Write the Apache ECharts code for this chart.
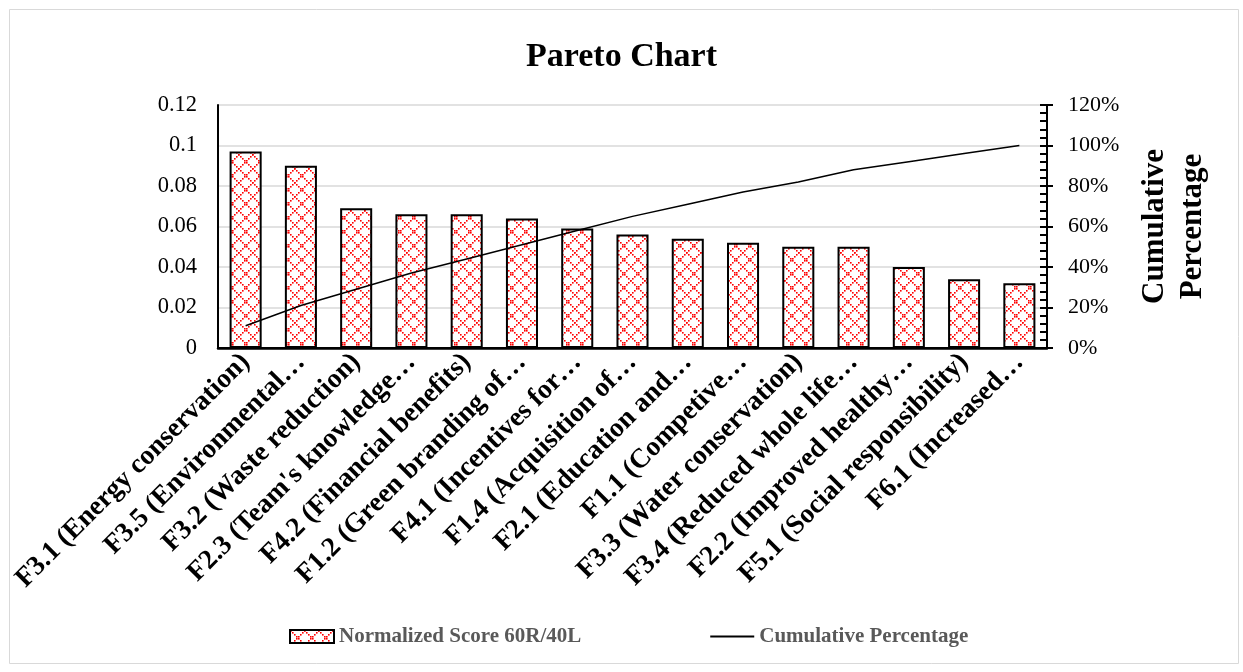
<!DOCTYPE html>
<html>
<head>
<meta charset="utf-8">
<script src="https://cdn.jsdelivr.net/npm/echarts@6/dist/echarts.min.js"></script>
<style>
  html, body { margin: 0; padding: 0; background: #fff; }
  #chart { width: 1243px; height: 672px; }
</style>
</head>
<body>
<div id="chart"></div>
<script>
// Factor labels as shown under the axis
const categories = [
  'F3.1 (Energy conservation)',
  'F3.5 (Environmental…',
  'F3.2 (Waste reduction)',
  "F2.3 (Team's knowledge…",
  'F4.2 (Financial benefits)',
  'F1.2 (Green branding of…',
  'F4.1 (Incentives for…',
  'F1.4 (Acquisition of…',
  'F2.1 (Education and…',
  'F1.1 (Competive…',
  'F3.3 (Water conservation)',
  'F3.4 (Reduced whole life…',
  'F2.2 (Improved healthy…',
  'F5.1 (Social responsibility)',
  'F6.1 (Increased…'
];

// Normalized score per factor (left axis)
const scores = [0.097, 0.090, 0.069, 0.066, 0.066, 0.064, 0.059, 0.056, 0.054, 0.052, 0.050, 0.050, 0.040, 0.034, 0.032];

// Cumulative percentage (right axis, %)
const cumulative = [11, 21, 29, 37, 44, 51, 58, 65, 71, 77, 82, 88, 92, 96, 100];

const leftTicks = { min: 0, max: 0.12, interval: 0.02 };
const rightTicks = { min: 0, max: 120, interval: 20 };

const SERIF = '"Liberation Serif", "Times New Roman", serif';

// Red dotted-diamond fill tile
function makePattern() {
  const n = 14;
  const c = document.createElement('canvas');
  c.width = n; c.height = n;
  const ctx = c.getContext('2d');
  ctx.fillStyle = '#ffffff';
  ctx.fillRect(0, 0, n, n);
  ctx.fillStyle = '#ff0000';
  for (let i = 0; i < n; i += 2) {
    ctx.fillRect(i, i, 1.6, 1.6);
    ctx.fillRect(i, (n - i) % n, 1.6, 1.6);
  }
  return c;
}
const pattern = { image: makePattern(), repeat: 'repeat' };

const chart = echarts.init(document.getElementById('chart'), null, { renderer: 'canvas' });

chart.setOption({
  animation: false,
  backgroundColor: '#ffffff',
  title: {
    text: 'Pareto Chart',
    left: 'center',
    top: 35,
    textStyle: { fontFamily: SERIF, fontWeight: 'bold', fontSize: 34, color: '#000' }
  },
  graphic: [{
    type: 'rect',
    shape: { x: 9.5, y: 9.5, width: 1229, height: 654 },
    style: { fill: 'none', stroke: '#d9d9d9', lineWidth: 1 },
    silent: true
  }],
  legend: {
    bottom: 20,
    left: 284,
    itemGap: 128,
    itemWidth: 44,
    itemHeight: 13,
    textStyle: { fontFamily: SERIF, fontWeight: 'bold', fontSize: 21, color: '#595959' },
    data: [
      { name: 'Normalized Score 60R/40L', icon: 'rect' },
      { name: 'Cumulative Percentage', itemStyle: { opacity: 0 } }
    ]
  },
  grid: {
    left: 218, right: 196, top: 105, bottom: 324
  },
  xAxis: [
    {
      type: 'category',
      data: categories,
      boundaryGap: true,
      axisLine: { show: true, lineStyle: { color: '#000', width: 2.5 } },
      axisTick: { show: false },
      axisLabel: {
        interval: 0,
        rotate: 45,
        margin: 10,
        fontFamily: SERIF, fontWeight: 'bold', fontSize: 27.5, color: '#000'
      }
    },
    {
      // top edge of the plot frame
      type: 'category',
      data: categories,
      position: 'top',
      axisLine: { show: true, lineStyle: { color: '#000', width: 2 } },
      axisTick: { show: false },
      axisLabel: { show: false }
    }
  ],
  yAxis: [
    {
      type: 'value',
      position: 'left',
      min: leftTicks.min, max: leftTicks.max, interval: leftTicks.interval,
      axisLine: { show: true, lineStyle: { color: '#000', width: 2 } },
      axisTick: { show: false },
      axisLabel: {
        margin: 21,
        fontFamily: SERIF, fontSize: 22.5, color: '#000',
        formatter: v => String(+v.toFixed(2))
      },
      splitLine: { show: true, lineStyle: { color: '#d9d9d9', width: 1.5 } }
    },
    {
      type: 'value',
      position: 'right',
      min: rightTicks.min, max: rightTicks.max, interval: rightTicks.interval,
      name: 'Cumulative\nPercentage',
      nameLocation: 'middle',
      nameRotate: 90,
      nameGap: 89,
      nameTextStyle: { fontFamily: SERIF, fontWeight: 'bold', fontSize: 31, color: '#000', lineHeight: 38 },
      axisLine: { show: true, lineStyle: { color: '#000', width: 2 } },
      axisTick: { show: true, inside: false, length: 6, lineStyle: { color: '#000', width: 2 } },
      axisLabel: {
        margin: 21,
        fontFamily: SERIF, fontSize: 22, color: '#000',
        formatter: v => v + '%'
      },
      splitLine: { show: false }
    },
    {
      // inner major and minor ticks on the right axis
      type: 'value',
      position: 'right',
      min: rightTicks.min, max: rightTicks.max, interval: rightTicks.interval,
      axisLine: { show: false },
      axisTick: { show: true, inside: true, length: 7, lineStyle: { color: '#000', width: 2 } },
      minorTick: { show: true, splitNumber: 5, length: 7, lineStyle: { color: '#000', width: 2 } },
      axisLabel: { show: false },
      splitLine: { show: false }
    }
  ],
  series: [
    {
      name: 'Normalized Score 60R/40L',
      type: 'bar',
      yAxisIndex: 0,
      data: scores,
      barWidth: '58%',
      itemStyle: { color: pattern, borderColor: '#000', borderWidth: 2 }
    },
    {
      name: 'Cumulative Percentage',
      type: 'line',
      yAxisIndex: 1,
      data: cumulative,
      symbol: 'none',
      lineStyle: { color: '#000', width: 1.5 },
      itemStyle: { color: '#000' }
    }
  ]
});
</script>
</body>
</html>
